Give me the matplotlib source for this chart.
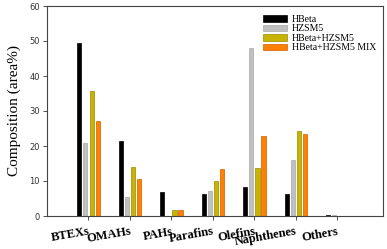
import numpy as np
import matplotlib
matplotlib.use("Agg")
import matplotlib.pyplot as plt

categories = ["BTEXs", "OMAHs", "PAHs", "Parafins", "Olefins", "Naphthenes", "Others"]
series_names = ["HBeta", "HZSM5", "HBeta+HZSM5", "HBeta+HZSM5 MIX"]
hbeta = [49.5, 21.3, 6.8, 6.4, 8.2, 6.4, 0.2]
hzsm5 = [21.0, 5.3, 0.0, 7.2, 48.0, 16.0, 0.2]
hbeta_hzsm5 = [35.8, 14.0, 1.7, 10.0, 13.6, 24.3, 0.0]
hbeta_hzsm5_mix = [27.0, 10.7, 1.7, 13.3, 22.9, 23.4, 0.0]

colors = ["#000000", "#c0c0c0", "#c8b400", "#ff8000"]
edges = ["#000000", "#a8a8a8", "#9a8a00", "#d06000"]

fig = plt.figure(figsize=(3.87, 2.49), dpi=100)
ax = fig.add_axes([47/387, 33/249, 336/387, 210/249])

x = np.arange(len(categories))
offs = [-0.22, -0.075, 0.075, 0.22]
for vals, name, c, ec, o in zip([hbeta, hzsm5, hbeta_hzsm5, hbeta_hzsm5_mix],
                                series_names, colors, edges, offs):
    ax.bar(x + o, vals, width=0.1, color=c, edgecolor=ec, linewidth=0.5, label=name)

ax.set_xlim(-1.0, 7.1)
ax.set_ylim(0, 60)
ax.set_yticks(range(0, 61, 10))
ax.set_xticks(x)
ax.set_xticklabels(categories, rotation=10, ha="right", rotation_mode="anchor",
                   family="Liberation Serif", fontweight="bold", fontsize=9)
ax.tick_params(axis="y", labelsize=6, length=3, width=0.6, colors="#333333", pad=2)
ax.tick_params(axis="x", length=3, width=0.6, pad=4, colors="#333333", labelcolor="black")
for lab in ax.get_yticklabels():
    lab.set_family("DejaVu Sans")
for s in ax.spines.values():
    s.set_color("#444444")
    s.set_linewidth(0.8)

ax.set_ylabel("Composition (area%)", family="Liberation Serif", fontsize=11, labelpad=6)

leg = ax.legend(loc="upper right", frameon=False, prop={"family": "Liberation Serif", "size": 7},
                handlelength=2.5, handleheight=0.7, labelspacing=0.05, handletextpad=0.5,
                borderaxespad=0.3, bbox_to_anchor=(1.0, 0.99))

fig.savefig("out.png", dpi=100)
